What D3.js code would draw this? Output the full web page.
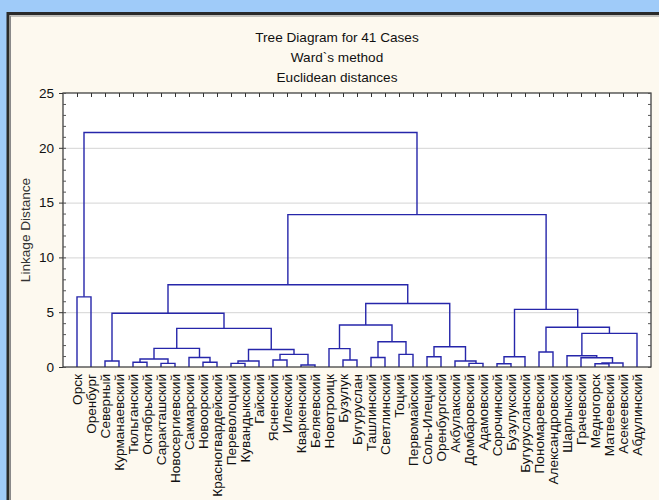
<!DOCTYPE html>
<html>
<head>
<meta charset="utf-8">
<script src="https://cdn.jsdelivr.net/npm/d3@7"></script>
<style>
  html, body { margin: 0; padding: 0; background: #9fcbf9; }
  svg { display: block; font-family: "Liberation Sans", Arial, sans-serif; }
</style>
</head>
<body>
<svg id="chart" width="659" height="500"></svg>
<script>
// Leaves of the dendrogram, left to right
const cases = [
  "Орск", "Оренбург", "Северный", "Курманаевский", "Тюльганский", "Октябрьский",
  "Саракташский", "Новосергиевский", "Сакмарский", "Новоорский", "Красногвардейский",
  "Переволоцкий", "Кувандыкский", "Гайский", "Ясненский", "Илекский", "Кваркенский",
  "Беляевский", "Новотроицк", "Бузулук", "Бугуруслан", "Ташлинский", "Светлинский",
  "Тоцкий", "Первомайский", "Соль-Илецкий", "Оренбургский", "Акбулакский",
  "Домбаровский", "Адамовский", "Сорочинский", "Бузулукский", "Бугурусланский",
  "Пономаревский", "Александровский", "Шарлыкский", "Грачевский", "Медногорск",
  "Матвеевский", "Асекеевский", "Абдулинский"
];

// Linkage steps: node ids 0..40 are cases, step k creates node 41 + k
const mergeLeft  = [16, 30, 37, 11, 6, 28, 9, 4, 43, 2, 44, 27, 14, 19, 48, 8, 21, 36, 25, 42,
                    35, 53, 23, 33, 51, 55, 18, 59, 57, 61, 66, 64, 67, 50, 60, 73, 0, 74, 78, 77];
const mergeRight = [17, 31, 38, 12, 7, 29, 10, 5, 39, 3, 13, 46, 15, 20, 45, 47, 22, 49, 26, 32,
                    58, 41, 24, 34, 62, 56, 54, 52, 63, 40, 65, 70, 69, 71, 72, 68, 1, 76, 75, 79];
const mergeHeight = [0.18, 0.3, 0.3, 0.33, 0.33, 0.33, 0.43, 0.43, 0.36, 0.55, 0.55, 0.55, 0.64, 0.64,
                     0.73, 0.86, 0.86, 0.85, 0.94, 0.94, 1.03, 1.15, 1.15, 1.37, 1.6, 1.7, 1.68, 1.85,
                     2.3, 3.07, 3.52, 3.62, 3.83, 4.9, 5.26, 5.8, 6.4, 7.5, 13.9, 21.4];

const yMajor = [0, 5, 10, 15, 20, 25];
const yMinor = d3.range(0, 26, 1);
const titleLines = ["Tree Diagram for 41 Cases", "Ward`s method", "Euclidean distances"];
const yTitle = "Linkage Distance";

const svg = d3.select("#chart");
const plotL = 63, plotR = 651, plotT = 93, plotB = 367;
const fontFamily = "Liberation Sans, Arial, sans-serif";

// panel
svg.append("rect").attr("x", 8).attr("y", 13.5).attr("width", 700).attr("height", 520)
  .attr("fill", "#fdf9ef").attr("stroke", "#2a2a2a").attr("stroke-width", 3);
svg.append("rect").attr("x", 10.5).attr("y", 16).attr("width", 700).attr("height", 520)
  .attr("fill", "none").attr("stroke", "#8a8a8a").attr("stroke-width", 1);

// titles
svg.selectAll("text.title").data(titleLines).join("text")
  .attr("class", "title")
  .attr("x", 337).attr("y", (d, i) => 41.5 + i * 20)
  .attr("text-anchor", "middle").attr("font-size", 13.6).attr("fill", "#111")
  .text(d => d);

const x = d3.scaleLinear().domain([-1, 41]).range([plotL, plotR]);
const y = d3.scaleLinear().domain([0, 25]).range([plotB, plotT]);

// plot area
svg.append("rect").attr("x", plotL).attr("y", plotT)
  .attr("width", plotR - plotL).attr("height", plotB - plotT).attr("fill", "#ffffff");

// grid
svg.append("g").selectAll("line").data(yMajor.filter(v => v > 0 && v < 25)).join("line")
  .attr("x1", plotL).attr("x2", plotR)
  .attr("y1", d => y(d) + 0.5).attr("y2", d => y(d) + 0.5)
  .attr("stroke", "#d4d4d4").attr("stroke-width", 1);

// dendrogram layout
const n = cases.length;
const nodeX = cases.map((_, i) => x(i));
const nodeH = cases.map(() => 0);
const links = [];
mergeLeft.forEach((a, k) => {
  const b = mergeRight[k], h = mergeHeight[k];
  links.push({ xa: nodeX[a], ha: nodeH[a], xb: nodeX[b], hb: nodeH[b], h });
  nodeX.push((nodeX[a] + nodeX[b]) / 2);
  nodeH.push(h);
});

svg.append("g").selectAll("path").data(links).join("path")
  .attr("d", d => `M${d.xa},${y(d.ha)}V${y(d.h)}H${d.xb}V${y(d.hb)}`)
  .attr("fill", "none").attr("stroke", "#2626aa").attr("stroke-width", 1.4);

// frame
svg.append("rect").attr("x", plotL).attr("y", plotT)
  .attr("width", plotR - plotL).attr("height", plotB - plotT)
  .attr("fill", "none").attr("stroke", "#333").attr("stroke-width", 1.2);

// y axis
const yAxis = svg.append("g").attr("transform", `translate(${plotL},0)`)
  .call(d3.axisLeft(y).tickValues(yMajor).tickSize(4).tickPadding(5));
yAxis.select(".domain").remove();
yAxis.selectAll("line").attr("stroke", "#333");
yAxis.selectAll("text").attr("font-size", 13.6).attr("fill", "#111")
  .attr("font-family", fontFamily);

const minorL = svg.append("g").attr("transform", `translate(${plotL},0)`)
  .call(d3.axisRight(y).tickValues(yMinor).tickSize(3).tickFormat(""));
minorL.select(".domain").remove();
minorL.selectAll("line").attr("stroke", "#555");

const minorR = svg.append("g").attr("transform", `translate(${plotR},0)`)
  .call(d3.axisLeft(y).tickValues(yMinor).tickSize(3).tickFormat(""));
minorR.select(".domain").remove();
minorR.selectAll("line").attr("stroke", "#555");

// top ticks
const topAxis = svg.append("g").attr("transform", `translate(0,${plotT})`)
  .call(d3.axisBottom(x).tickValues(d3.range(n)).tickSize(4).tickFormat(""));
topAxis.select(".domain").remove();
topAxis.selectAll("line").attr("stroke", "#333");

// case labels
const xAxis = svg.append("g").attr("transform", `translate(0,${plotB})`)
  .call(d3.axisBottom(x).tickValues(d3.range(n)).tickSize(0).tickFormat(i => cases[i]));
xAxis.select(".domain").remove();
xAxis.selectAll("text")
  .attr("transform", "rotate(-90)")
  .attr("x", -7).attr("y", 0).attr("dy", "0.36em")
  .attr("text-anchor", "end")
  .attr("font-size", 13.6).attr("fill", "#111")
  .attr("font-family", fontFamily);

// y title
svg.append("text")
  .attr("transform", `translate(30,${(plotT + plotB) / 2}) rotate(-90)`)
  .attr("text-anchor", "middle").attr("font-size", 13.6).attr("fill", "#333")
  .text(yTitle);
</script>
</body>
</html>
